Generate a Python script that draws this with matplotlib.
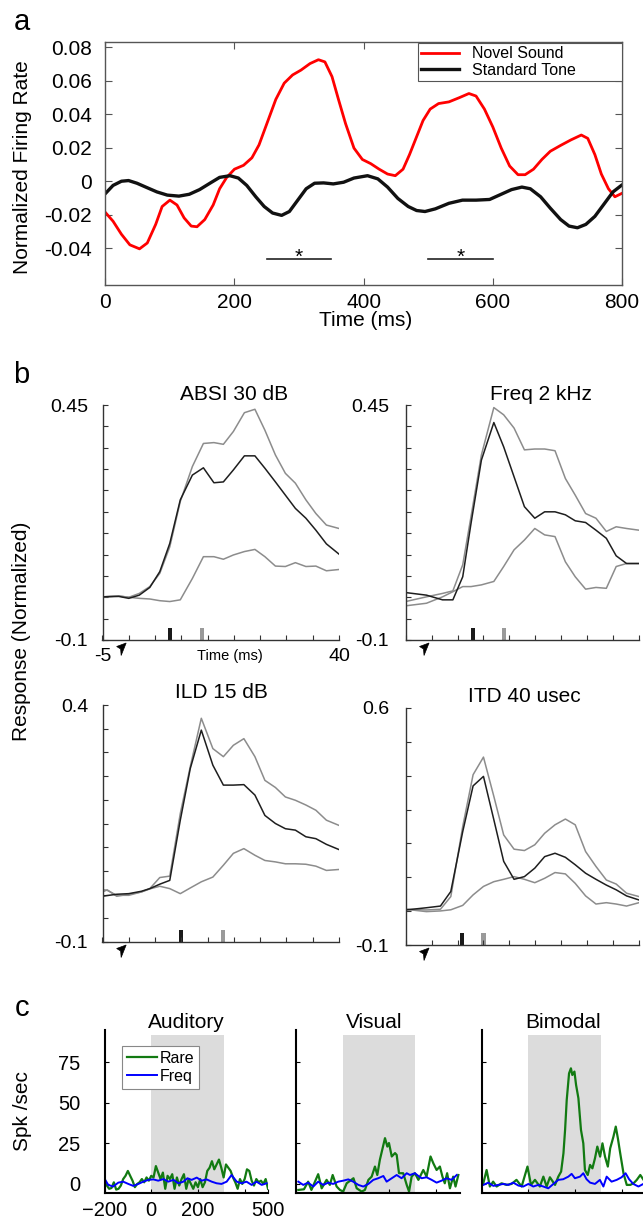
import numpy as np
import matplotlib
matplotlib.use('Agg')
import matplotlib.pyplot as plt
from matplotlib.patches import Polygon
from matplotlib.transforms import ScaledTranslation

plt.rcParams['font.family'] = ['Liberation Sans', 'DejaVu Sans']

# ---- panel a: normalized firing rate ----
red_t = [0, 12, 25, 38, 53, 65, 78, 88, 100, 111, 122, 133, 142, 154, 167, 177, 188, 200, 214, 227,
         238, 251, 264, 277, 290, 303, 317, 330, 340, 351, 361, 372, 385, 398, 411, 424, 437, 449, 461, 471,
         482, 492, 503, 516, 532, 548, 563, 574, 587, 600, 613, 626, 639, 650, 663, 676, 689, 705, 721, 737,
         747, 758, 768, 779, 789, 799]
novel = [-0.0186, -0.0239, -0.0317, -0.038, -0.0404, -0.0369, -0.0258, -0.0151, -0.0113, -0.0142,
         -0.0219, -0.0268, -0.0272, -0.0229, -0.0142, -0.0045, 0.0023, 0.0072, 0.0095, 0.014,
         0.0217, 0.0353, 0.0489, 0.0586, 0.0635, 0.0664, 0.0703, 0.0726, 0.0713, 0.0625,
         0.0489, 0.0344, 0.0198, 0.013, 0.0105, 0.0072, 0.0043, 0.0033, 0.0072, 0.0159,
         0.0266, 0.0363, 0.0431, 0.0464, 0.0474, 0.0499, 0.0524, 0.0509, 0.0431, 0.0324,
         0.0198, 0.0091, 0.0039, 0.0039, 0.0072, 0.013, 0.0179, 0.0214, 0.0247, 0.0276,
         0.0256, 0.0159, 0.0043, -0.0045, -0.0093, -0.0074]
black_t = [0, 12, 25, 36, 49, 65, 80, 96, 114, 130, 146, 162, 177, 193, 206, 219, 233, 246, 259, 273,
           285, 298, 311, 324, 338, 353, 369, 385, 406, 422, 437, 453, 469, 482, 495, 511, 532, 553, 574, 595,
           610, 629, 645, 658, 674, 689, 705, 718, 731, 744, 758, 773, 786, 799]
standard = [-0.0074, -0.0025, 0.0, 0.0004, -0.0012, -0.0039, -0.0064, -0.0083, -0.0089, -0.0078,
            -0.005, -0.0012, 0.0023, 0.0033, 0.0019, -0.0025, -0.0093, -0.0151, -0.019, -0.0204,
            -0.0181, -0.0113, -0.0045, -0.0012, -0.001, -0.0016, -0.0006, 0.0019, 0.0033, 0.0014,
            -0.0035, -0.0103, -0.0151, -0.0175, -0.0181, -0.0165, -0.0132, -0.0113, -0.0113, -0.0109,
            -0.0083, -0.005, -0.0035, -0.0045, -0.0093, -0.0161, -0.0229, -0.0268, -0.0278, -0.0258,
            -0.021, -0.0132, -0.0064, -0.0025]
sig_windows = [(250, 350), (500, 600)]
sig_y = -0.0462

# ---- panel b: responses (upper gray, black, lower gray) ----
absi_t = [-5, -1.9, 0, 2, 4, 5.9, 7.8, 9.8, 12.1, 14.2, 16.2, 18, 19.9, 22, 24, 25.9, 27.9, 29.8, 31.7, 33.7, 35.6, 37.6, 40]
absi_hi = [0.001, 0.003, 0.0, 0.009, 0.025, 0.056, 0.118, 0.224, 0.306, 0.36, 0.362, 0.358, 0.388, 0.432, 0.44,
           0.391, 0.333, 0.29, 0.267, 0.228, 0.196, 0.169, 0.161]
absi_mid = [0.001, 0.002, -0.0025, 0.005, 0.023, 0.06, 0.126, 0.228, 0.286, 0.303, 0.268, 0.27, 0.298, 0.331, 0.331,
            0.302, 0.27, 0.239, 0.208, 0.185, 0.157, 0.125, 0.101]
absi_lo = [0.001, 0.003, 0.0, -0.0025, -0.004, -0.008, -0.010, -0.006, 0.044, 0.095, 0.095, 0.089, 0.099, 0.107, 0.112,
           0.095, 0.073, 0.072, 0.081, 0.072, 0.073, 0.062, 0.065]

freq_t = [-5, -1, 2.1, 4.1, 6, 7.6, 9.6, 12, 13.9, 15.9, 17.9, 19.9, 21.8, 23.8, 25.8, 27.7, 29.7, 31.7, 33.7, 35.6, 37.6, 40]
freq_hi = [-0.010, 0.001, 0.009, 0.015, 0.076, 0.189, 0.333, 0.444, 0.427, 0.396, 0.345, 0.347, 0.347, 0.343, 0.278,
           0.239, 0.196, 0.185, 0.154, 0.165, 0.161, 0.157]
freq_mid = [0.011, 0.005, -0.006, -0.006, 0.048, 0.173, 0.321, 0.409, 0.352, 0.282, 0.212, 0.185, 0.2, 0.2, 0.193,
            0.179, 0.175, 0.157, 0.138, 0.097, 0.079, 0.079]
freq_lo = [-0.020, -0.014, 0.001, 0.013, 0.025, 0.025, 0.029, 0.037, 0.072, 0.111, 0.134, 0.161, 0.146, 0.142, 0.083,
           0.048, 0.019, 0.023, 0.021, 0.072, 0.079, 0.079]

ild_t = [-5, -4.1, -2.3, 0, 2.4, 4, 5.9, 7.8, 9.8, 11.7, 13.8, 16, 18, 19.9, 21.9, 24, 25.9, 27.9, 29.8, 31.7, 33.7, 35.6, 37.6, 40]
ild_hi = [0.0105, 0.009, -0.0015, -0.0015, 0.0056, 0.0126, 0.036, 0.039, 0.171, 0.270, 0.372, 0.308, 0.291, 0.315,
          0.329, 0.291, 0.241, 0.226, 0.206, 0.199, 0.189, 0.178, 0.157, 0.146]
ild_mid = [-0.0035, -0.002, 0.0007, 0.002, 0.007, 0.0126, 0.022, 0.030, 0.157, 0.266, 0.347, 0.273, 0.231, 0.231,
           0.232, 0.21, 0.167, 0.15, 0.139, 0.136, 0.122, 0.118, 0.106, 0.095]
ild_lo = [0.0056, 0.010, -0.0035, 0.0007, 0.0056, 0.012, 0.0176, 0.0126, 0.002, 0.014, 0.027, 0.037, 0.062, 0.087,
          0.097, 0.083, 0.072, 0.069, 0.065, 0.065, 0.064, 0.060, 0.051, 0.053]

itd_t = [-5, -1, 1.7, 3.7, 6, 8, 10, 12, 13.9, 15.9, 17.9, 19.9, 21.8, 23.8, 25.8, 27.7, 29.7, 31.7, 33.7, 35.6, 37.6, 40]
itd_hi = [0.0055, 0.0035, 0.0055, 0.043, 0.25, 0.403, 0.455, 0.339, 0.225, 0.183, 0.179, 0.196, 0.230, 0.255, 0.272,
          0.255, 0.176, 0.132, 0.092, 0.080, 0.053, 0.043]
itd_mid = [0.0035, 0.010, 0.015, 0.058, 0.235, 0.370, 0.398, 0.27, 0.147, 0.094, 0.102, 0.127, 0.161, 0.171, 0.159,
           0.137, 0.112, 0.094, 0.077, 0.063, 0.045, 0.033]
itd_lo = [0.0055, -0.0014, 0.0006, 0.004, 0.017, 0.048, 0.073, 0.087, 0.094, 0.102, 0.094, 0.084, 0.097, 0.114, 0.11,
          0.082, 0.045, 0.021, 0.025, 0.021, 0.015, 0.025]

b_titles = ['ABSI 30 dB', 'Freq 2 kHz', 'ILD 15 dB', 'ITD 40 usec']
b_ymax = [0.45, 0.45, 0.4, 0.6]
b_ystep = [0.05, 0.05, 0.05, 0.1]
b_ytop_label = ['0.45', '0.45', '0.4', '0.6']
b_black_mark = [7.9, 7.9, 9.9, 5.9]
b_gray_mark = [14.0, 13.9, 18.0, 10.0]
b_arrow = [-0.5, -0.5, -0.5, -0.5]

# ---- panel c: spikes/sec ----
aud_rare_t = np.arange(-200, 501, 10)
aud_rare = [2.5, -1, -3, -2.5, 1, -3.5, -3, -1, 3, 5, 8, 5, 2, -2, 0, 1, 3, 1, 4, 2,
            5, 4, 11, 7, 3, 7, -3, 5, 3, 6, -3, 4, -1, 3, 6, -3, 3, 0, -3, 1,
            -2, 3, -2, 1, 8, 10, 14, 9, 12, 15, 10, 4, 12, 10, 8, 4, 1, -3, 3, 0,
            3, 9, 8, 2, -1, 3, 1, 2, 0, 3, -3]
aud_freq_t = [-198, -184, -163, -141, -120, -98, -77, -55, -34, -12, 9, 30, 52, 73, 95, 116, 138, 155, 173, 195,
              216, 237, 259, 280, 301, 323, 344, 366, 387, 408, 430, 451, 473, 494]
aud_freq = [2.8, -0.6, -1.6, 0.8, 1.4, 0, -1.2, 0, 1.4, 2.5, 2.8, 2, 3, 1.4, 2.5, 0.4, 1.4, 3.5, 2.5, 3.9,
            2, 2.8, 1.4, 0.4, 0, 1.4, 5.5, 1.4, 0.4, 1.4, -0.6, 1.4, -0.6, 0.4]

vis_rare_t = [-190, -166, -148, -134, -105, -90, -69, -55, -43, -26, -12, 2, 17, 46, 60, 81, 95, 110, 124, 138,
              148, 159, 181, 191, 198, 210, 224, 231, 241, 259, 274, 284, 295, 309, 324, 345, 359, 376, 388, 402,
              416, 427, 437, 447, 459, 473, 483, 495]
vis_rare = [-3.7, -3.3, 1.4, -3.7, 6.0, -2.7, 2.5, -0.6, 5.5, -1.6, -3.7, -4.7, 0.4, 3.5, -2.7, -4.7, -3.7, 2.5, 4.5, 10.7,
            5.5, 14.8, 28.2, 23, 25.2, 16.9, 19, 17.9, 6.6, 6.6, -0.6, -4.7, 4.5, 6.6, 2.5, 8.6, 4.5, 16.9, 12.7, 8.6,
            10.7, 4.5, 0.4, 6.6, -2.7, 4.5, -1.6, 5.5]
vis_freq_t = [-190, -169, -148, -126, -105, -83, -62, -41, -19, 2, 24, 45, 67, 88, 110, 131, 152, 174, 188, 210,
              231, 252, 274, 288, 309, 324, 338, 359, 381, 402, 423, 445, 466, 488]
vis_freq = [1.4, -0.6, 0.8, -1.6, 1.4, -0.6, 0.8, 0, 1.4, 2.0, 2.8, 1.4, -0.6, -1.6, 0, 2.5, 3.5, 4.9, 1.4, 3.5,
            5.5, 3.5, 6.6, 5.5, 6.6, 4.9, 3.5, 4.1, 2.5, 0.8, 2.0, 3.5, 2.5, 5.5]

bim_rare_t = [-193, -179, -165, -151, -136, -115, -94, -72, -51, -29, -4, 11, 28, 49, 64, 78, 92, 114, 128, 140,
              150, 157, 164, 174, 182, 188, 197, 204, 214, 225, 235, 242, 254, 264, 274, 285, 295, 307, 317, 328,
              340, 350, 364, 374, 383, 393, 407, 421, 436, 450, 464, 479, 493]
bim_rare = [0.4, 8.6, -1.6, 1.4, -1.6, 0.4, -0.6, 0, 2.5, -1.6, 10.7, -0.6, 2.5, -1.6, 4.5, -1.6, 4.1, -0.6, 4.5, 7.6,
            18.9, 33.3, 51.7, 68.1, 71.2, 67.1, 69.2, 61, 52.8, 33.3, 25, 8.6, 5.5, 11.7, 9.6, 15.8, 23, 16.8, 25, 16.8,
            10.7, 21.9, 29.1, 35.3, 28.1, 18.9, 6.6, -0.6, -0.6, 0.4, 2.5, 5.5, 2.5]
bim_freq_t = [-193, -172, -150, -129, -107, -86, -65, -43, -22, 0, 21, 42, 64, 85, 107, 128, 149, 171, 185, 199,
              221, 235, 249, 264, 285, 306, 321, 335, 356, 378, 399, 416, 431, 449, 471, 492]
bim_freq = [-0.6, 0.8, -1.2, -0.6, 0, -0.6, 0.8, -1.0, -1.6, 0, -1.6, -0.6, -1.6, -2.7, 0, 2.5, 2.9, 4.5, 6.2, 3.5,
            4.5, 6.6, 2.9, 0.8, 0, 2.5, -1.6, 4.5, 1.4, 2.5, 4.1, 6.6, 2.9, 0, -1.6, 0]

c_titles = ['Auditory', 'Visual', 'Bimodal']
stim_window = (0, 310)

W, H = 643, 1222
fig = plt.figure(figsize=(W / 100, H / 100), dpi=100)


def box(l, t, r, b):
    return [l / W, 1 - b / H, (r - l) / W, (b - t) / H]


def label(x, y, s, **kw):
    fig.text(x / W, 1 - y / H, s, ha='center', va='center', **kw)


# arrowhead outline in pixels (y up), tip at origin, pointing up-right
arrow_px = np.array([[0, 0], [-9.5, -3.5], [-5.5, -6], [-5, -12.5]])

# ================= a =================
ax = fig.add_axes(box(105.3, 42.3, 622, 285))
ax.plot(red_t, novel, color='#ff0000', lw=2, label='Novel Sound')
ax.plot(black_t, standard, color='#111111', lw=2.4, label='Standard Tone')
for a0, a1 in sig_windows:
    ax.plot([a0, a1], [sig_y, sig_y], color='#222222', lw=1.2)
    ax.annotate('*', xy=((a0 + a1) / 2, sig_y), xytext=(0, -3), textcoords='offset points',
                ha='center', va='baseline', fontsize=15)
ax.set_xlim(0, 800)
ax.set_ylim(-0.062, 0.083)
ax.set_xticks(range(0, 801, 200))
ax.set_yticks([-0.04, -0.02, 0, 0.02, 0.04, 0.06, 0.08])
ax.set_yticklabels(['-0.04', '-0.02', '0', '0.02', '0.04', '0.06', '0.08'])
ax.tick_params(direction='in', length=5, top=True, right=True, labelsize=15, color='#555555')
ax.tick_params(axis='y', pad=9.5)
ax.tick_params(axis='x', pad=5.5)
for s in ax.spines.values():
    s.set_color('#555555')
    s.set_linewidth(1)
leg = ax.legend(loc='upper left', bbox_to_anchor=(0.605, 0, 0.395, 0.996), mode='expand', borderaxespad=0,
                fontsize=11.5, handlelength=2.4, handletextpad=0.8, labelspacing=0.1, borderpad=0.2,
                fancybox=False, framealpha=1, edgecolor='#555555')
leg.get_frame().set_linewidth(0.8)
label(22, 22, 'a', fontsize=21)
label(22.5, 167, 'Normalized Firing Rate', rotation=90, fontsize=15)
label(366, 320.7, 'Time (ms)', fontsize=15)

# ================= b =================
b_rects = [box(102.5, 405, 339, 640), box(405.7, 405, 639, 640),
           box(102.5, 705, 339, 942), box(405.7, 708, 639, 945)]
b_title_xy = [(233.6, 395), (541, 395), (221, 693), (524.6, 697)]
b_ypad = [10.4, 12, 10.4, 12]
b_series = [(absi_t, absi_hi, absi_mid, absi_lo), (freq_t, freq_hi, freq_mid, freq_lo),
            (ild_t, ild_hi, ild_mid, ild_lo), (itd_t, itd_hi, itd_mid, itd_lo)]
for i, (t, hi, mid, lo) in enumerate(b_series):
    ax = fig.add_axes(b_rects[i])
    ax.plot(t, lo, color='#8c8c8c', lw=1.1)
    ax.plot(t, hi, color='#8c8c8c', lw=1.1)
    ax.plot(t, mid, color='#1e1e1e', lw=1.1)
    ymin, ymax = -0.1, b_ymax[i]
    hgt = 0.05 * (ymax - ymin)
    ax.bar([b_black_mark[i]], [hgt], bottom=ymin, width=0.8, color='#1a1a1a')
    ax.bar([b_gray_mark[i]], [hgt], bottom=ymin, width=0.8, color='#9a9a9a')
    ax.set_xlim(-5, 40)
    ax.set_ylim(ymin, ymax)
    xt = list(range(-5, 41, 5))
    ax.set_xticks(xt)
    if i == 0:
        ax.set_xticklabels(['-5'] + [''] * (len(xt) - 2) + ['40'])
    else:
        ax.set_xticklabels([''] * len(xt))
    n = int(round((ymax - ymin) / b_ystep[i]))
    yt = [ymin + k * b_ystep[i] for k in range(n + 1)]
    ax.set_yticks(yt)
    ax.set_yticklabels(['-0.1'] + [''] * (n - 1) + [b_ytop_label[i]])
    ax.tick_params(direction='in', length=3.5, width=0.8, labelsize=14, color='#333333')
    ax.tick_params(axis='y', pad=b_ypad[i])
    ax.tick_params(axis='x', pad=5.8)
    ax.spines['top'].set_visible(False)
    ax.spines['right'].set_visible(False)
    for s in ('left', 'bottom'):
        ax.spines[s].set_color('#333333')
        ax.spines[s].set_linewidth(1)
    # arrowhead just below the axis, tip 3 px under the x axis line
    tip = ScaledTranslation(b_arrow[i], 0, ax.get_xaxis_transform())
    head = Polygon(arrow_px / 100.0 + [0, -0.03], closed=True, facecolor='k', edgecolor='k', lw=0.5,
                   transform=fig.dpi_scale_trans + tip, clip_on=False)
    ax.add_patch(head)
    label(b_title_xy[i][0], b_title_xy[i][1], b_titles[i], fontsize=15)

label(229.5, 656, 'Time (ms)', fontsize=10.5)
label(21.7, 375, 'b', fontsize=21)
label(22, 631, 'Response (Normalized)', rotation=90, fontsize=15)

# ================= c =================
c_left = [104.5, 296, 481.7]
c_title_x = [186, 374, 563.5]
c_series = [(aud_rare_t, aud_rare, aud_freq_t, aud_freq), (vis_rare_t, vis_rare, vis_freq_t, vis_freq),
            (bim_rare_t, bim_rare, bim_freq_t, bim_freq)]
for i, (rt, rv, ft, fv) in enumerate(c_series):
    ax = fig.add_axes(box(c_left[i], 1030, c_left[i] + 163.5, 1192.7))
    ax.axvspan(stim_window[0], stim_window[1], ymin=0, ymax=0.969, color='#dcdcdc', lw=0)
    ax.plot(rt, rv, color='#127a12', lw=1.6, label='Rare')
    ax.plot(ft, fv, color='#0000ff', lw=1.4, label='Freq')
    ax.set_xlim(-200, 500)
    ax.set_ylim(-5.4, 94.8)
    ax.set_yticks([0, 25, 50, 75])
    if i == 0:
        ax.set_xticks([-200, 0, 200, 500])
        ax.set_xticks([400], minor=True)
        leg = ax.legend(loc='upper left', bbox_to_anchor=(0.107, 0.902), borderaxespad=0, fontsize=11.5,
                        handlelength=1.9, handletextpad=0.15, labelspacing=0.2, borderpad=0.3,
                        fancybox=False, framealpha=1, edgecolor='#888888')
        leg.get_frame().set_linewidth(0.8)
    else:
        ax.set_xticks([-200, 0, 200, 400])
        ax.set_xticklabels([])
        ax.set_yticklabels([])
    ax.tick_params(which='both', direction='in', length=3, width=0.8, labelsize=14.5)
    ax.tick_params(axis='y', pad=17.5)
    ax.tick_params(axis='x', pad=6)
    ax.spines['top'].set_visible(False)
    ax.spines['right'].set_visible(False)
    for s in ('left', 'bottom'):
        ax.spines[s].set_linewidth(1.5)
    label(c_title_x[i], 1022, c_titles[i], fontsize=15)

label(22.5, 1007.5, 'c', fontsize=21)
label(22.5, 1111, 'Spk /sec', rotation=90, fontsize=15)

fig.savefig('out.png', dpi=100)
